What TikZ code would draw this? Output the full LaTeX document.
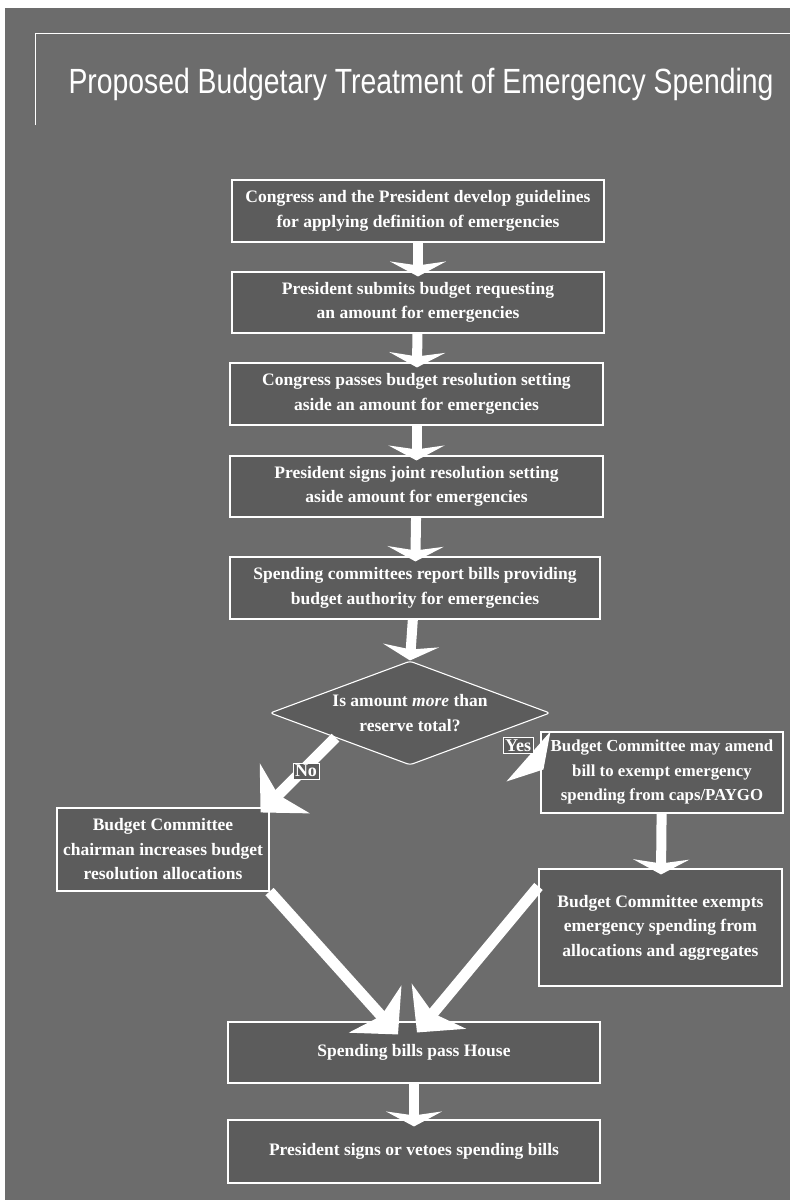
\documentclass[tikz,border=0pt]{standalone}
\usepackage{fontspec}
\setmainfont{Liberation Serif}
\newfontfamily\titlefont{Liberation Sans}
\usetikzlibrary{arrows.meta,positioning,shapes.geometric,calc}
\definecolor{scan-bg}{HTML}{6C6C6C}
\definecolor{box-bg}{HTML}{5C5C5C}

\begin{document}
\begin{tikzpicture}[
  x=1pt, y=-1pt,
  stepbox/.style={rectangle, draw=white, fill=box-bg, line width=1.1pt,
    text=white, font=\fontsize{17.5}{24.5}\selectfont\bfseries,
    align=center, inner sep=0pt},
  decision/.style={diamond, draw=white, fill=box-bg, line width=1.1pt,
    rounded corners=3pt, aspect=2.69, inner sep=0pt,
    minimum width=280pt, minimum height=104pt,
    text=white, font=\fontsize{17.5}{24.5}\selectfont\bfseries, align=center},
  tag/.style={rectangle, draw=white, fill=box-bg, line width=0.9pt,
    text=white, font=\fontsize{18}{18}\selectfont\bfseries, inner sep=2pt},
  downarrow/.style={draw=white, line width=10pt,
    -{Stealth[width=56pt,length=15pt,inset=4pt]}},
  slantarrow/.style={draw=white, line width=11pt,
    -{Stealth[width=70pt,length=34pt,inset=9pt]}},
]
  \useasboundingbox (0,0) rectangle (790,1200);
  \fill[white] (0,0) rectangle (790,1200);
  \fill[scan-bg] (5,8) rectangle (790,1200);

  % title
  \draw[white, line width=0.9pt] (35,125) -- (35,33) -- (790,33);
  \node[anchor=base, text=white, inner sep=0pt] (title) at (421,93)
    {\titlefont\fontsize{35}{35}\selectfont\scalebox{0.81}[1]{Proposed Budgetary Treatment of Emergency Spending}};

  % main column
  \node[stepbox, minimum width=372pt, minimum height=62pt] (guide) at (418,211)
    {Congress and the President develop guidelines\\for applying definition of emergencies};
  \node[stepbox, minimum width=372pt, minimum height=61pt] (request) at (418,302.5)
    {President submits budget requesting\\an amount for emergencies};
  \node[stepbox, minimum width=373pt, minimum height=62pt] (resol) at (416.5,394)
    {Congress passes budget resolution setting\\aside an amount for emergencies};
  \node[stepbox, minimum width=373pt, minimum height=61pt] (joint) at (416.5,486.5)
    {President signs joint resolution setting\\aside amount for emergencies};
  \node[stepbox, minimum width=370pt, minimum height=62pt] (report) at (415,588)
    {Spending committees report bills providing\\budget authority for emergencies};
  \node[decision] (check) at (410,713)
    {Is amount \textit{more} than\\reserve total?};

  % branches
  \node[stepbox, minimum width=212pt, minimum height=83pt] (raise) at (163,849.5)
    {Budget Committee\\chairman increases budget\\resolution allocations};
  \node[stepbox, minimum width=242pt, minimum height=81pt,
    font=\fontsize{16.8}{24.5}\selectfont\bfseries] (amend) at (662,772.5)
    {Budget Committee may amend\\bill to exempt emergency\\spending from caps/PAYGO};
  \node[stepbox, minimum width=243pt, minimum height=117pt] (exempt) at (660.5,927.5)
    {Budget Committee exempts\\emergency spending from\\allocations and aggregates};

  \node[stepbox, minimum width=372pt, minimum height=61pt] (house) at (414,1052.5)
    {Spending bills pass House};
  \node[stepbox, minimum width=372pt, minimum height=63pt] (sign) at (414,1151.5)
    {President signs or vetoes spending bills};

  % arrows
  \draw[downarrow, shorten >=-5pt] (guide) -- (request);
  \draw[downarrow, shorten >=-5pt] (request) -- (resol);
  \draw[downarrow, shorten >=-5pt] (resol) -- (joint);
  \draw[downarrow, shorten >=-5pt] (joint) -- (report);
  \draw[downarrow] (report) -- (check.north);
  \draw[downarrow, shorten >=-6pt] (amend) -- (exempt);
  \draw[downarrow, shorten >=-7pt] (house) -- (sign);

  \coordinate (no start) at ($(check.west)!0.47!(check.south)$);
  \coordinate (no tip) at ([shift={(-9,5)}]raise.north east);
  \draw[slantarrow] (no start) -- (no tip);
  \node[tag] (no) at (306,771) {No};

  \coordinate (yes tip) at ([shift={(10,0)}]amend.north west);
  \fill[white] (yes tip) -- ++(-44,50) -- ++(37,-12) -- cycle;
  \node[tag] (yes) at (518,745.5) {Yes};

  \draw[slantarrow] (raise.south east) -- ([shift={(-16,13)}]house.north);
  \draw[slantarrow] ([shift={(0,18)}]exempt.north west) -- ([shift={(3,11)}]house.north);
\end{tikzpicture}
\end{document}
